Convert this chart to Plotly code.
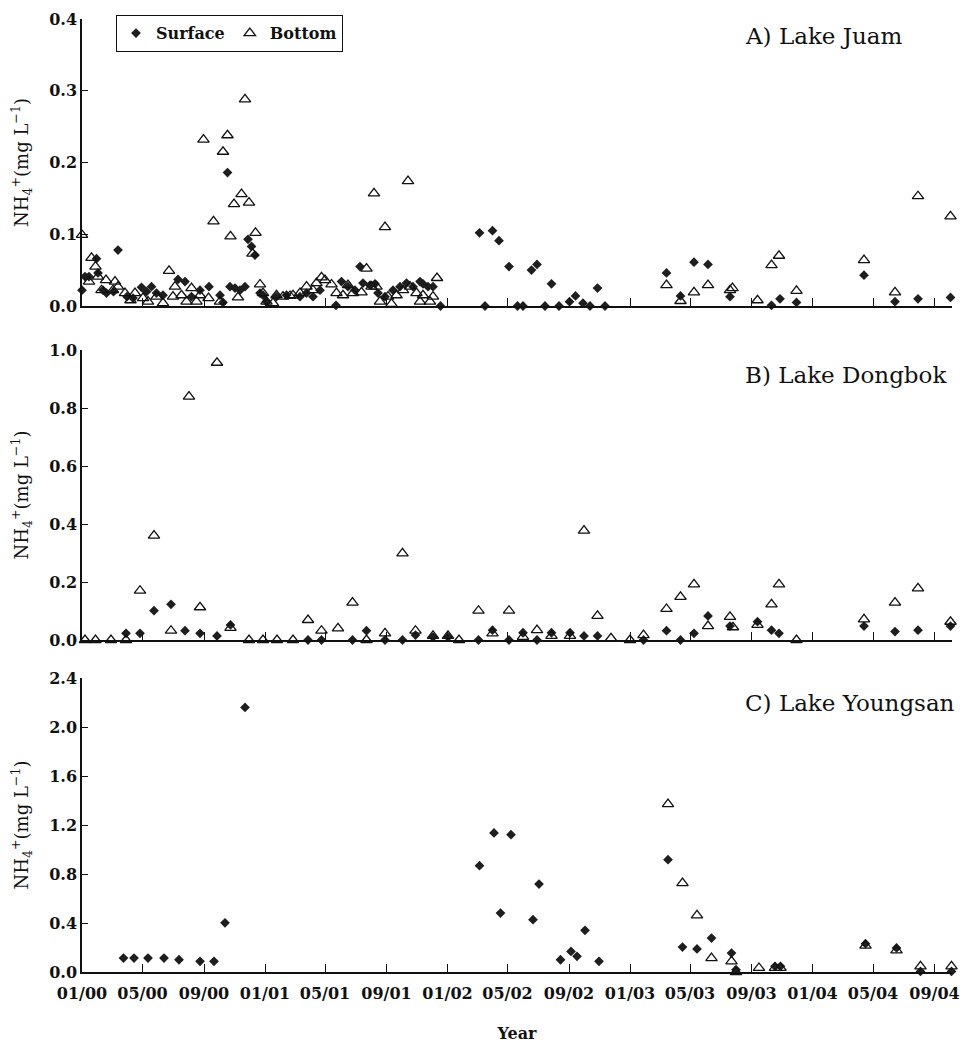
import plotly.graph_objects as go

# ---------------- DATA ----------------
month_ticks = ["2000-01-01", "2000-05-01", "2000-09-01", "2001-01-01", "2001-05-01", "2001-09-01",
               "2002-01-01", "2002-05-01", "2002-09-01", "2003-01-01", "2003-05-01", "2003-09-01",
               "2004-01-01", "2004-05-01", "2004-09-01"]
month_labels = ["01/00", "05/00", "09/00", "01/01", "05/01", "09/01", "01/02", "05/02", "09/02",
                "01/03", "05/03", "09/03", "01/04", "05/04", "09/04"]

# A) Lake Juam
juam_surface_dates = [
    "2000-01-01", "2000-01-07", "2000-01-15", "2000-01-30", "2000-02-02", "2000-02-12", "2000-02-19",
    "2000-03-04", "2000-03-13", "2000-03-31", "2000-04-12", "2000-04-29", "2000-05-09", "2000-05-19",
    "2000-05-29", "2000-06-11", "2000-07-11", "2000-07-25", "2000-08-07", "2000-08-24", "2000-09-11",
    "2000-10-03", "2000-10-09", "2000-10-18", "2000-10-23", "2000-11-02", "2000-11-12", "2000-11-22",
    "2000-11-28", "2000-12-05", "2000-12-12", "2000-12-22", "2000-12-28", "2001-01-04", "2001-01-24",
    "2001-02-13", "2001-03-12", "2001-03-25", "2001-04-07", "2001-04-21", "2001-05-23", "2001-06-03",
    "2001-06-16", "2001-06-30", "2001-07-10", "2001-07-16", "2001-07-30", "2001-08-09", "2001-08-15",
    "2001-08-29", "2001-09-14", "2001-09-28", "2001-10-11", "2001-10-24", "2001-11-07", "2001-11-13",
    "2001-11-23", "2001-12-03", "2001-12-18", "2002-03-06", "2002-03-17", "2002-04-01", "2002-04-14",
    "2002-05-04", "2002-05-21", "2002-06-01", "2002-06-18", "2002-06-29", "2002-07-15", "2002-07-28",
    "2002-08-12", "2002-09-02", "2002-09-14", "2002-09-29", "2002-10-13", "2002-10-28", "2002-11-12",
    "2003-03-15", "2003-04-12", "2003-05-09", "2003-06-06", "2003-07-20", "2003-10-11", "2003-10-28",
    "2003-11-30", "2004-04-13", "2004-06-14", "2004-07-30", "2004-10-03"]
juam_surface = [
    0.022, 0.041, 0.041, 0.066, 0.046, 0.022, 0.018,
    0.020, 0.078, 0.013, 0.011, 0.026, 0.020, 0.027,
    0.018, 0.015, 0.037, 0.034, 0.013, 0.022, 0.027,
    0.015, 0.005, 0.186, 0.027, 0.025, 0.022, 0.027,
    0.093, 0.083, 0.071, 0.018, 0.015, 0.006, 0.013,
    0.015, 0.013, 0.018, 0.013, 0.022, 0.001, 0.034,
    0.027, 0.022, 0.055, 0.032, 0.029, 0.031, 0.018,
    0.013, 0.022, 0.027, 0.032, 0.027, 0.034, 0.031,
    0.027, 0.027, 0.000, 0.102, 0.000, 0.105, 0.091,
    0.055, 0.000, 0.000, 0.050, 0.058, 0.000, 0.031,
    0.000, 0.006, 0.014, 0.004, 0.000, 0.025, 0.000,
    0.046, 0.014, 0.061, 0.058, 0.013, 0.001, 0.010,
    0.005, 0.043, 0.006, 0.010, 0.012]
juam_bottom_dates = [
    "2000-01-01", "2000-01-15", "2000-01-20", "2000-01-28", "2000-02-02", "2000-02-09", "2000-02-18",
    "2000-03-03", "2000-03-07", "2000-03-13", "2000-03-27", "2000-04-07", "2000-04-16", "2000-05-02",
    "2000-05-12", "2000-05-29", "2000-06-11", "2000-06-23", "2000-07-01", "2000-07-05", "2000-07-18",
    "2000-07-28", "2000-08-07", "2000-08-17", "2000-08-24", "2000-08-31", "2000-09-10", "2000-09-20",
    "2000-10-03", "2000-10-09", "2000-10-18", "2000-10-24", "2000-10-31", "2000-11-08", "2000-11-15",
    "2000-11-22", "2000-11-30", "2000-12-07", "2000-12-13", "2000-12-22", "2000-12-28", "2001-01-04",
    "2001-01-17", "2001-01-24", "2001-02-06", "2001-02-20", "2001-02-26", "2001-03-12", "2001-03-25",
    "2001-04-07", "2001-04-14", "2001-04-24", "2001-05-01", "2001-05-14", "2001-05-24", "2001-06-06",
    "2001-06-16", "2001-06-26", "2001-07-13", "2001-07-23", "2001-08-02", "2001-08-07", "2001-08-12",
    "2001-08-19", "2001-08-29", "2001-09-04", "2001-09-11", "2001-09-21", "2001-10-04", "2001-10-14",
    "2001-10-18", "2001-10-31", "2001-11-07", "2001-11-13", "2001-11-27", "2001-12-03", "2001-12-11",
    "2003-03-15", "2003-04-12", "2003-05-09", "2003-06-06", "2003-07-20", "2003-07-25", "2003-09-13",
    "2003-10-11", "2003-10-26", "2003-11-30", "2004-04-13", "2004-06-14", "2004-07-30", "2004-10-03"]
juam_bottom = [
    0.099, 0.034, 0.067, 0.055, 0.041, 0.022, 0.036,
    0.022, 0.034, 0.027, 0.018, 0.008, 0.018, 0.011,
    0.006, 0.013, 0.004, 0.049, 0.013, 0.027, 0.015,
    0.006, 0.025, 0.006, 0.015, 0.232, 0.011, 0.118,
    0.006, 0.215, 0.238, 0.097, 0.142, 0.012, 0.156,
    0.288, 0.144, 0.073, 0.102, 0.030, 0.018, 0.006,
    0.004, 0.015, 0.013, 0.014, 0.015, 0.018, 0.027,
    0.022, 0.032, 0.040, 0.036, 0.030, 0.018, 0.015,
    0.029, 0.018, 0.019, 0.052, 0.027, 0.157, 0.027,
    0.006, 0.110, 0.013, 0.003, 0.015, 0.022, 0.174,
    0.027, 0.018, 0.006, 0.015, 0.006, 0.013, 0.039,
    0.029, 0.007, 0.019, 0.029, 0.022, 0.025, 0.008,
    0.057, 0.070, 0.021, 0.064, 0.019, 0.153, 0.125]

# B) Lake Dongbok
dongbok_surface_dates = [
    "2000-03-29", "2000-04-26", "2000-05-24", "2000-06-27", "2000-07-25", "2000-08-24", "2000-09-27",
    "2000-10-24", "2001-03-28", "2001-04-24", "2001-06-25", "2001-07-23", "2001-08-29", "2001-10-03",
    "2001-10-29", "2001-12-03", "2002-01-02", "2002-03-04", "2002-04-01", "2002-05-04", "2002-06-01",
    "2002-06-29", "2002-07-28", "2002-09-03", "2002-10-01", "2002-10-28", "2003-01-28", "2003-03-15",
    "2003-04-12", "2003-05-09", "2003-06-06", "2003-07-20", "2003-09-13", "2003-10-11", "2003-10-26",
    "2004-04-13", "2004-06-14", "2004-07-30", "2004-10-03"]
dongbok_surface = [
    0.023, 0.023, 0.101, 0.123, 0.032, 0.023, 0.014,
    0.052, 0.000, 0.000, 0.000, 0.032, 0.000, 0.000,
    0.017, 0.010, 0.010, 0.000, 0.034, 0.000, 0.025,
    0.000, 0.025, 0.025, 0.014, 0.014, 0.000, 0.032,
    0.000, 0.023, 0.083, 0.048, 0.063, 0.034, 0.023,
    0.048, 0.029, 0.034, 0.048]
dongbok_bottom_dates = [
    "2000-01-07", "2000-01-28", "2000-02-28", "2000-03-29", "2000-04-26", "2000-05-24", "2000-06-27",
    "2000-08-02", "2000-08-24", "2000-09-27", "2000-10-24", "2000-11-30", "2000-12-28", "2001-01-25",
    "2001-02-26", "2001-03-28", "2001-04-24", "2001-05-27", "2001-06-25", "2001-07-23", "2001-08-29",
    "2001-10-03", "2001-10-29", "2001-12-03", "2002-01-02", "2002-01-24", "2002-03-04", "2002-04-01",
    "2002-05-04", "2002-06-01", "2002-06-29", "2002-07-28", "2002-09-03", "2002-10-01", "2002-10-28",
    "2002-11-24", "2003-01-01", "2003-01-28", "2003-03-15", "2003-04-12", "2003-05-09", "2003-06-06",
    "2003-07-20", "2003-07-26", "2003-09-13", "2003-10-11", "2003-10-26", "2003-11-30", "2004-04-13",
    "2004-06-14", "2004-07-30", "2004-10-03"]
dongbok_bottom = [
    0.000, 0.000, 0.000, 0.000, 0.170, 0.360, 0.032,
    0.839, 0.113, 0.956, 0.042, 0.000, 0.000, 0.000,
    0.000, 0.069, 0.032, 0.040, 0.129, 0.000, 0.023,
    0.299, 0.032, 0.014, 0.014, 0.000, 0.101, 0.023,
    0.101, 0.011, 0.034, 0.014, 0.014, 0.377, 0.083,
    0.006, 0.000, 0.017, 0.107, 0.149, 0.192, 0.048,
    0.080, 0.044, 0.052, 0.123, 0.192, 0.000, 0.071,
    0.129, 0.178, 0.063]

# C) Lake Youngsan
youngsan_surface_dates = [
    "2000-03-24", "2000-04-14", "2000-05-12", "2000-06-13", "2000-07-13", "2000-08-24", "2000-09-21",
    "2000-10-13", "2000-11-22", "2002-03-06", "2002-04-04", "2002-04-17", "2002-05-08", "2002-06-21",
    "2002-07-03", "2002-08-15", "2002-09-05", "2002-09-17", "2002-10-03", "2002-10-31", "2003-03-18",
    "2003-04-16", "2003-05-15", "2003-06-13", "2003-07-23", "2003-08-01", "2003-10-18", "2003-10-29",
    "2004-04-16", "2004-06-17", "2004-08-04", "2004-10-05"]
youngsan_surface = [
    0.114, 0.114, 0.114, 0.114, 0.100, 0.087, 0.087,
    0.402, 2.160, 0.868, 1.135, 0.481, 1.121, 0.427,
    0.718, 0.100, 0.168, 0.128, 0.340, 0.087, 0.917,
    0.204, 0.188, 0.277, 0.155, 0.019, 0.046, 0.046,
    0.231, 0.196, 0.005, 0.005]
youngsan_bottom_dates = [
    "2003-03-18", "2003-04-16", "2003-05-15", "2003-06-13", "2003-07-23", "2003-08-01", "2003-09-16",
    "2003-10-18", "2003-10-29", "2004-04-16", "2004-06-17", "2004-08-04", "2004-10-05"]
youngsan_bottom = [
    1.371, 0.726, 0.462, 0.114, 0.087, 0.000, 0.033,
    0.033, 0.033, 0.215, 0.176, 0.046, 0.046]

panels = [
    ("A) Lake Juam", juam_surface_dates, juam_surface, juam_bottom_dates, juam_bottom, [0, 0.4], 0.1),
    ("B) Lake Dongbok", dongbok_surface_dates, dongbok_surface, dongbok_bottom_dates, dongbok_bottom, [0, 1.0], 0.2),
    ("C) Lake Youngsan", youngsan_surface_dates, youngsan_surface, youngsan_bottom_dates, youngsan_bottom, [0, 2.4], 0.4),
]

# ---------------- FIGURE ----------------
W, H = 962, 1043
ML, MR, MT, MB = 82, 10, 19, 71
plot_h = H - MT - MB


def frac(py):
    return (H - MB - py) / plot_h

domains = [[frac(306), 1.0], [frac(640), frac(350)], [0.0, frac(678)]]
title_y = [frac(36), frac(375), frac(703)]

FONT = "DejaVu Serif"
fig = go.Figure()
layout = dict(
    width=W, height=H,
    margin=dict(l=ML, r=MR, t=MT, b=MB, pad=0, autoexpand=False),
    paper_bgcolor="white", plot_bgcolor="white",
    font=dict(family=FONT, color="#111", size=16),
    showlegend=True,
    legend=dict(orientation="h", x=(116 - ML) / (W - ML - MR), y=frac(15), xanchor="left", yanchor="top",
                bordercolor="#111", borderwidth=1.2, bgcolor="white",
                font=dict(family=FONT, size=16, weight="bold"), itemwidth=30,
                tracegroupgap=0),
    annotations=[],
)

for i, (title, sd, sv, bd, bv, yr, dt) in enumerate(panels):
    n = "" if i == 0 else str(i + 1)
    xa, ya = "x" + n, "y" + n
    fig.add_trace(go.Scatter(
        x=sd, y=sv, mode="markers", name="Surface", legendgroup="s", showlegend=(i == 0),
        marker=dict(symbol="diamond", size=7.5, color="#1e1e1e", line=dict(width=0)),
        xaxis=xa, yaxis=ya, cliponaxis=False))
    fig.add_trace(go.Scatter(
        x=bd, y=bv, mode="markers", name="Bottom", legendgroup="b", showlegend=(i == 0),
        marker=dict(symbol="triangle-up-open", size=10, color="#111", line=dict(width=1.3)),
        xaxis=xa, yaxis=ya, cliponaxis=False))
    layout["xaxis" + n] = dict(
        type="date", range=["2000-01-01", "2004-10-06"], domain=[0, 1], anchor=ya, automargin=False,
        tickmode="array", tickvals=month_ticks, ticktext=month_labels,
        showticklabels=(i == 2), ticks="inside", ticklen=8, tickwidth=1.2, tickcolor="#111",
        showline=True, linecolor="#111", linewidth=1.5, showgrid=False, zeroline=False,
        tickfont=dict(family=FONT, size=16, weight="bold"), ticklabelstandoff=6,
    )
    if i == 2:
        layout["xaxis" + n]["title"] = dict(text="Year", font=dict(family=FONT, size=16, weight="bold"),
                                            standoff=29)
    layout["yaxis" + n] = dict(
        range=yr, dtick=dt, tick0=0, tickformat=".1f", domain=domains[i], anchor=xa, automargin=False,
        ticks="inside", ticklen=6, tickwidth=1.2, tickcolor="#111",
        showline=True, linecolor="#111", linewidth=1.5, showgrid=False, zeroline=False,
        tickfont=dict(family=FONT, size=16, weight="bold"),
        title=dict(text="NH<sub>4</sub><sup>+</sup>(mg L<sup>\u22121</sup>)",
                   font=dict(family=FONT, size=18), standoff=16),
    )
    layout["annotations"].append(dict(
        text=title, xref="paper", yref="paper", x=(743 - ML) / (W - ML - MR), y=title_y[i],
        xanchor="left", yanchor="middle", showarrow=False,
        font=dict(family=FONT, size=23, color="#111")))

fig.update_layout(**layout)
fig.write_html("out.html")
